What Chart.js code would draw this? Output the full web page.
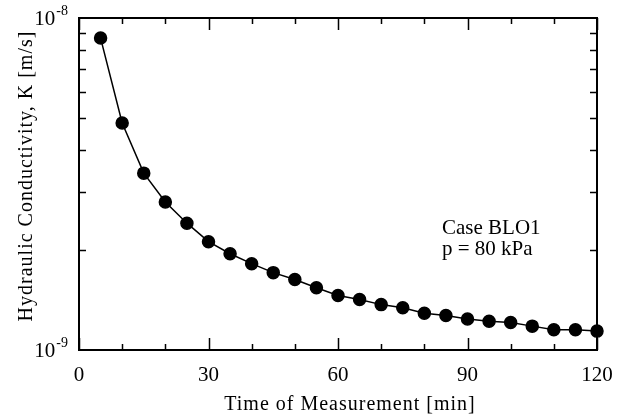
<!DOCTYPE html>
<html>
<head>
<meta charset="utf-8">
<script src="https://cdn.jsdelivr.net/npm/chart.js@4.4.1/dist/chart.umd.min.js"></script>
<style>
  html, body { margin: 0; padding: 0; background: #fff; }
  #wrap { width: 622px; height: 416px; }
</style>
</head>
<body>
<div id="wrap"><canvas id="chart" width="622" height="416"></canvas></div>
<script>
// Datos (Case BLO1, p = 80 kPa)
const timeMin = [5, 10, 15, 20, 25, 30, 35, 40, 45, 50, 55, 60, 65, 70, 75, 80, 85, 90, 95, 100, 105, 110, 115, 120];
const conductivity = [8.7e-9, 4.83e-9, 3.41e-9, 2.79e-9, 2.41e-9, 2.12e-9, 1.95e-9, 1.82e-9, 1.71e-9, 1.63e-9,
  1.54e-9, 1.46e-9, 1.42e-9, 1.37e-9, 1.34e-9, 1.29e-9, 1.27e-9, 1.24e-9, 1.22e-9, 1.21e-9,
  1.18e-9, 1.15e-9, 1.15e-9, 1.14e-9];
const xTickLabels = [0, 30, 60, 90, 120];
const xMinorTicks = [10, 20, 40, 50, 70, 80, 100, 110];
const yMinorTicks = [2e-9, 3e-9, 4e-9, 5e-9, 6e-9, 7e-9, 8e-9, 9e-9];
const yTickLabels = [{ base: '10', exp: '-9', value: 1e-9 }, { base: '10', exp: '-8', value: 1e-8 }];

const FONT = '"Liberation Serif", "Times New Roman", serif';

// Marco, marcas hacia dentro y textos del estilo de la figura original
const framePlugin = {
  id: 'frame',
  beforeDatasetsDraw(chart) {
    const { ctx, chartArea: a, scales: { x, y } } = chart;
    ctx.save();
    ctx.strokeStyle = '#000';
    ctx.lineWidth = 2;
    ctx.strokeRect(a.left, a.top, a.right - a.left, a.bottom - a.top);

    ctx.lineWidth = 1.5;
    ctx.beginPath();
    xTickLabels.forEach(v => {
      const px = Math.round(x.getPixelForValue(v)) + 0.5;
      ctx.moveTo(px, a.bottom); ctx.lineTo(px, a.bottom - 12);
      ctx.moveTo(px, a.top); ctx.lineTo(px, a.top + 12);
    });
    xMinorTicks.forEach(v => {
      const px = Math.round(x.getPixelForValue(v)) + 0.5;
      ctx.moveTo(px, a.bottom); ctx.lineTo(px, a.bottom - 6);
      ctx.moveTo(px, a.top); ctx.lineTo(px, a.top + 6);
    });
    yMinorTicks.forEach(v => {
      const py = Math.round(y.getPixelForValue(v)) + 0.5;
      ctx.moveTo(a.left, py); ctx.lineTo(a.left + 7, py);
      ctx.moveTo(a.right, py); ctx.lineTo(a.right - 7, py);
    });
    ctx.stroke();
    ctx.restore();
  },
  afterDraw(chart) {
    const { ctx, chartArea: a, scales: { x, y } } = chart;
    ctx.save();
    ctx.fillStyle = '#000';

    // etiquetas del eje x
    ctx.font = '21px ' + FONT;
    ctx.textAlign = 'center';
    ctx.textBaseline = 'alphabetic';
    xTickLabels.forEach(v => ctx.fillText(String(v), x.getPixelForValue(v), 381));

    // etiquetas del eje y con exponente
    yTickLabels.forEach(t => {
      const py = y.getPixelForValue(t.value);
      ctx.textAlign = 'right';
      ctx.font = '14px ' + FONT;
      ctx.fillText(t.exp, a.left - 11, py - 3);
      const expW = ctx.measureText(t.exp).width;
      ctx.font = '21px ' + FONT;
      ctx.fillText(t.base, a.left - 12 - expW, py + 7);
    });

    // titulos de los ejes
    ctx.font = '20px ' + FONT;
    if ('letterSpacing' in ctx) ctx.letterSpacing = '1px';
    ctx.textAlign = 'center';
    ctx.fillText('Time of Measurement [min]', 350, 410);
    ctx.save();
    ctx.translate(32, 176);
    ctx.rotate(-Math.PI / 2);
    ctx.fillText('Hydraulic Conductivity, K [m/s]', 0, 0);
    ctx.restore();

    // anotacion
    if ('letterSpacing' in ctx) ctx.letterSpacing = '0px';
    ctx.font = '21px ' + FONT;
    ctx.textAlign = 'left';
    ctx.fillText('Case BLO1', 442, 234);
    ctx.fillText('p = 80 kPa', 442, 255);
    ctx.restore();
  }
};

new Chart(document.getElementById('chart'), {
  type: 'scatter',
  data: {
    datasets: [{
      data: timeMin.map((t, i) => ({ x: t, y: conductivity[i] })),
      showLine: true,
      borderColor: '#000',
      borderWidth: 1.5,
      backgroundColor: '#000',
      pointBackgroundColor: '#000',
      pointBorderColor: '#000',
      pointRadius: 6,
      pointHoverRadius: 6,
      tension: 0,
      clip: false
    }]
  },
  options: {
    responsive: false,
    animation: false,
    events: [],
    layout: { padding: { left: 79, right: 25, top: 18, bottom: 66 } },
    plugins: { legend: { display: false }, tooltip: { enabled: false } },
    scales: {
      x: { type: 'linear', min: 0, max: 120, display: false },
      y: { type: 'logarithmic', min: 1e-9, max: 1e-8, display: false }
    }
  },
  plugins: [framePlugin]
});
</script>
</body>
</html>
